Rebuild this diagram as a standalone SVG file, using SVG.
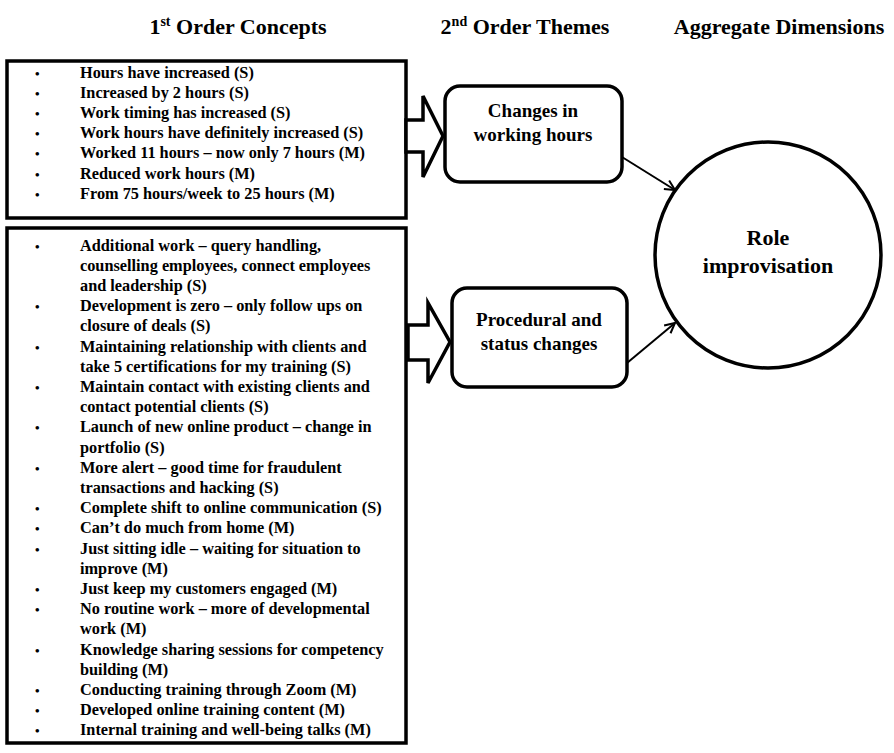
<svg xmlns="http://www.w3.org/2000/svg" width="894" height="753" viewBox="0 0 894 753">
<defs>
<style>
.hd{font-family:"Liberation Serif","Times New Roman",serif;font-weight:bold;font-size:22px;fill:#000;text-anchor:middle}
.li{font-family:"Liberation Serif","Times New Roman",serif;font-weight:bold;font-size:16.3px;fill:#000}
.bu{font-family:"Liberation Serif","Times New Roman",serif;font-weight:bold;font-size:13px;fill:#000}
.nd{font-family:"Liberation Serif","Times New Roman",serif;font-weight:bold;font-size:19px;fill:#000;text-anchor:middle}
.cr{font-family:"Liberation Serif","Times New Roman",serif;font-weight:bold;font-size:22px;fill:#000;text-anchor:middle}
.box{fill:#fff;stroke:#000;stroke-width:3.5}
.blk{fill:#fff;stroke:#000;stroke-width:3.5;stroke-linejoin:miter}
.con{fill:none;stroke:#000;stroke-width:2}
</style>
<marker id="arr" viewBox="0 0 12 12" refX="11" refY="6" markerWidth="12" markerHeight="12" markerUnits="userSpaceOnUse" orient="auto">
<path d="M1,1 L11,6 L1,11" fill="none" stroke="#000" stroke-width="2"/>
</marker>
</defs>
<rect width="894" height="753" fill="#fff"/>

<g id="headings">
<text class="hd" x="238" y="34">1<tspan font-size="14" dy="-8">st</tspan><tspan dy="8"> Order Concepts</tspan></text>
<text class="hd" x="525" y="34">2<tspan font-size="14" dy="-8">nd</tspan><tspan dy="8"> Order Themes</tspan></text>
<text class="hd" x="779" y="34">Aggregate Dimensions</text>
</g>

<g id="concepts1">
<rect class="box" x="7" y="61" width="399" height="157"/>
<text class="bu"><tspan x="35" y="77.5">•</tspan><tspan x="35" y="97.7">•</tspan><tspan x="35" y="117.9">•</tspan><tspan x="35" y="138.1">•</tspan><tspan x="35" y="158.3">•</tspan><tspan x="35" y="178.5">•</tspan><tspan x="35" y="198.7">•</tspan></text>
<text class="li">
<tspan x="80" y="77.5">Hours have increased (S)</tspan>
<tspan x="80" y="97.7">Increased by 2 hours (S)</tspan>
<tspan x="80" y="117.9">Work timing has increased (S)</tspan>
<tspan x="80" y="138.1">Work hours have definitely increased (S)</tspan>
<tspan x="80" y="158.3">Worked 11 hours – now only 7 hours (M)</tspan>
<tspan x="80" y="178.5">Reduced work hours (M)</tspan>
<tspan x="80" y="198.7">From 75 hours/week to 25 hours (M)</tspan>
</text>
</g>

<g id="concepts2">
<rect class="box" x="7" y="228" width="399" height="515"/>
<text class="bu"><tspan x="35" y="250.5">•</tspan><tspan x="35" y="311.1">•</tspan><tspan x="35" y="351.5">•</tspan><tspan x="35" y="391.9">•</tspan><tspan x="35" y="432.3">•</tspan><tspan x="35" y="472.7">•</tspan><tspan x="35" y="513.1">•</tspan><tspan x="35" y="533.3">•</tspan><tspan x="35" y="553.5">•</tspan><tspan x="35" y="593.9">•</tspan><tspan x="35" y="614.1">•</tspan><tspan x="35" y="654.5">•</tspan><tspan x="35" y="694.9">•</tspan><tspan x="35" y="715.1">•</tspan><tspan x="35" y="735.3">•</tspan></text>
<text class="li">
<tspan x="80" y="250.5">Additional work – query handling,</tspan>
<tspan x="80" y="270.7">counselling employees, connect employees</tspan>
<tspan x="80" y="290.9">and leadership (S)</tspan>
<tspan x="80" y="311.1">Development is zero – only follow ups on</tspan>
<tspan x="80" y="331.3">closure of deals (S)</tspan>
<tspan x="80" y="351.5">Maintaining relationship with clients and</tspan>
<tspan x="80" y="371.7">take 5 certifications for my training (S)</tspan>
<tspan x="80" y="391.9">Maintain contact with existing clients and</tspan>
<tspan x="80" y="412.1">contact potential clients (S)</tspan>
<tspan x="80" y="432.3">Launch of new online product – change in</tspan>
<tspan x="80" y="452.5">portfolio (S)</tspan>
<tspan x="80" y="472.7">More alert – good time for fraudulent</tspan>
<tspan x="80" y="492.9">transactions and hacking (S)</tspan>
<tspan x="80" y="513.1">Complete shift to online communication (S)</tspan>
<tspan x="80" y="533.3">Can’t do much from home (M)</tspan>
<tspan x="80" y="553.5">Just sitting idle – waiting for situation to</tspan>
<tspan x="80" y="573.7">improve (M)</tspan>
<tspan x="80" y="593.9">Just keep my customers engaged (M)</tspan>
<tspan x="80" y="614.1">No routine work – more of developmental</tspan>
<tspan x="80" y="634.3">work (M)</tspan>
<tspan x="80" y="654.5">Knowledge sharing sessions for competency</tspan>
<tspan x="80" y="674.7">building (M)</tspan>
<tspan x="80" y="694.9">Conducting training through Zoom (M)</tspan>
<tspan x="80" y="715.1">Developed online training content (M)</tspan>
<tspan x="80" y="735.3">Internal training and well-being talks (M)</tspan>
</text>
</g>

<g id="theme1">
<rect class="box" x="445" y="86" width="177" height="96" rx="15" ry="15"/>
<text class="nd" x="533" y="117">Changes in</text>
<text class="nd" x="533" y="141">working hours</text>
</g>

<g id="theme2">
<rect class="box" x="452" y="288" width="175" height="99" rx="15" ry="15"/>
<text class="nd" x="539" y="326">Procedural and</text>
<text class="nd" x="539" y="350">status changes</text>
</g>

<g id="dimension">
<circle class="box" cx="768" cy="255" r="113"/>
<text class="cr" x="768" y="245">Role</text>
<text class="cr" x="768" y="273">improvisation</text>
</g>

<g id="connectors">
<polygon class="blk" points="406,120 423,120 423,96 443,136 423,177 423,152 406,152"/>
<polygon class="blk" points="408,325 428,325 428,303 450,342 428,383 428,360 408,360"/>
<line class="con" x1="622" y1="157" x2="675" y2="190" marker-end="url(#arr)"/>
<line class="con" x1="627" y1="363" x2="675" y2="323" marker-end="url(#arr)"/>
</g>
</svg>
